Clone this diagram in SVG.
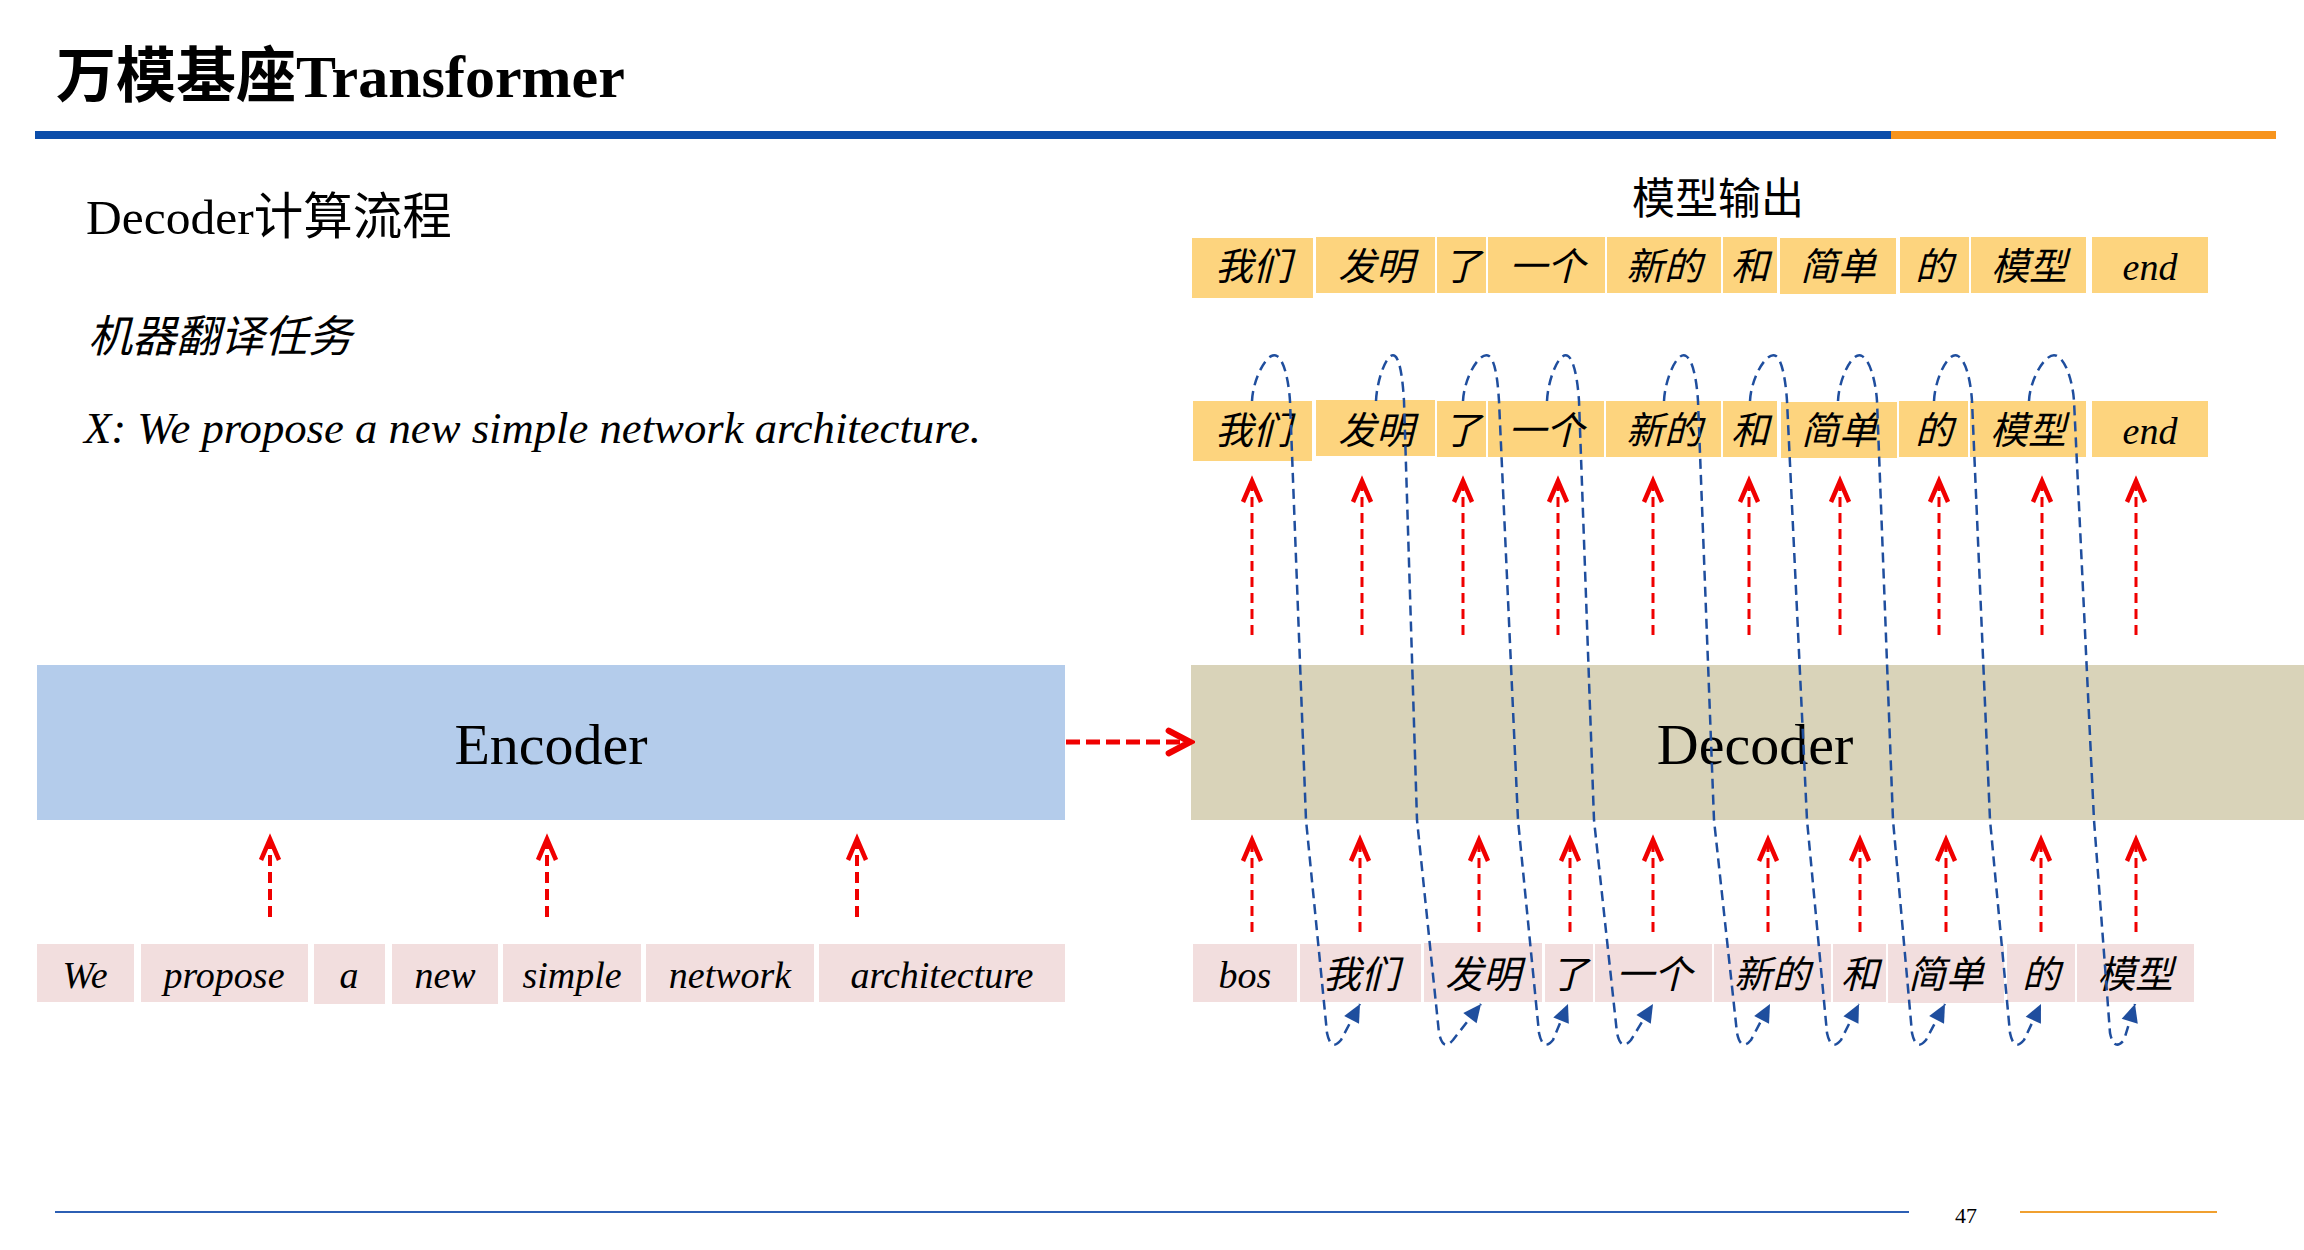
<svg xmlns="http://www.w3.org/2000/svg" width="2304" height="1250" viewBox="0 0 2304 1250">
<style>
.t{font-family:"Liberation Serif","Noto Sans CJK SC",serif;fill:#000}
.tok{font-family:"Liberation Serif","Noto Sans CJK SC",serif;font-style:italic;font-size:38px;text-anchor:middle;fill:#000}
.out{fill:#FDD47E}
.inp{fill:#F2DEDE}
.red{stroke:#F00000;stroke-width:3;fill:none;stroke-dasharray:10 6}
.red4{stroke:#F00000;stroke-width:4;fill:none;stroke-dasharray:11 6}
.blue{stroke:#1F4E9E;stroke-width:2.5;fill:none;stroke-dasharray:10 6}
</style>
<defs>
<marker id="rh" markerUnits="userSpaceOnUse" markerWidth="30" markerHeight="30" viewBox="-16 -10 20 20" refX="0" refY="0" orient="auto">
<path d="M-14,-6 L0,0 L-14,6" fill="none" stroke="#F00000" stroke-width="3" stroke-dasharray="none"/>
</marker>
<marker id="rh2" markerUnits="userSpaceOnUse" markerWidth="30" markerHeight="30" viewBox="-20 -12 24 24" refX="0" refY="0" orient="auto">
<path d="M-17,-9 L0,0 L-17,9" fill="none" stroke="#F00000" stroke-width="5" stroke-linecap="round" stroke-dasharray="none"/>
</marker>
<marker id="bh" markerUnits="userSpaceOnUse" markerWidth="24" markerHeight="24" viewBox="-16 -10 20 20" refX="0" refY="0" orient="auto">
<path d="M-15,-7 L0,0 L-15,7 z" fill="#1F4E9E" stroke="none"/>
</marker>
</defs>
<rect x="0" y="0" width="2304" height="1250" fill="#FFFFFF"/>

<g id="header">
<text class="t" x="56" y="97" font-size="60" font-weight="bold">万模基座Transformer</text>
<rect x="35" y="131" width="1856" height="8" fill="#0B4DAA"/>
<rect x="1891" y="131" width="385" height="8" fill="#F7941D"/>
</g>

<g id="intro">
<text class="t" x="86" y="234" font-size="49.5">Decoder计算流程</text>
<text class="t" x="88" y="352" font-size="44" font-style="italic">机器翻译任务</text>
<text class="t" x="84" y="443" font-size="44.7" font-style="italic">X: We propose a new simple network architecture.</text>
</g>

<g id="encoder">
<rect x="37" y="665" width="1028" height="155" fill="#B4CCEB"/>
<text class="t" x="551" y="764" font-size="58" text-anchor="middle">Encoder</text>
</g>

<g id="decoder">
<rect x="1191" y="665" width="1113" height="155" fill="#D9D3B9"/>
<text class="t" x="1755" y="764" font-size="58" text-anchor="middle">Decoder</text>
</g>

<g id="source-tokens">
<g id="src-we"><rect class="inp" x="37" y="944" width="97" height="58"/><text class="tok" x="85" y="988">We</text></g>
<g id="src-propose"><rect class="inp" x="141" y="944" width="167" height="58"/><text class="tok" x="224" y="988">propose</text></g>
<g id="src-a"><rect class="inp" x="314" y="944" width="71" height="60"/><text class="tok" x="349" y="988">a</text></g>
<g id="src-new"><rect class="inp" x="392" y="944" width="106" height="60"/><text class="tok" x="445" y="988">new</text></g>
<g id="src-simple"><rect class="inp" x="503" y="944" width="138" height="58"/><text class="tok" x="572" y="988">simple</text></g>
<g id="src-network"><rect class="inp" x="646" y="944" width="168" height="58"/><text class="tok" x="730" y="988">network</text></g>
<g id="src-architecture"><rect class="inp" x="819" y="944" width="246" height="58"/><text class="tok" x="942" y="988">architecture</text></g>
</g>

<g id="output-label">
<text class="t" x="1718" y="214" font-size="43" text-anchor="middle">模型输出</text>
</g>

<g id="output-row">
<g id="out-1"><rect class="out" x="1192" y="238" width="121" height="60"/><text class="tok" x="1253" y="280">我们</text></g>
<g id="out-2"><rect class="out" x="1316" y="237" width="119" height="56"/><text class="tok" x="1376" y="280">发明</text></g>
<g id="out-3"><rect class="out" x="1437" y="237" width="49" height="56"/><text class="tok" x="1462" y="280">了</text></g>
<g id="out-4"><rect class="out" x="1488" y="237" width="117" height="56"/><text class="tok" x="1547" y="280">一个</text></g>
<g id="out-5"><rect class="out" x="1607" y="237" width="114" height="56"/><text class="tok" x="1664" y="280">新的</text></g>
<g id="out-6"><rect class="out" x="1723" y="237" width="54" height="56"/><text class="tok" x="1750" y="280">和</text></g>
<g id="out-7"><rect class="out" x="1780" y="238" width="116" height="56"/><text class="tok" x="1838" y="280">简单</text></g>
<g id="out-8"><rect class="out" x="1900" y="237" width="69" height="56"/><text class="tok" x="1934" y="280">的</text></g>
<g id="out-9"><rect class="out" x="1971" y="237" width="115" height="56"/><text class="tok" x="2029" y="280">模型</text></g>
<g id="out-10"><rect class="out" x="2092" y="237" width="116" height="56"/><text class="tok" x="2150" y="280">end</text></g>
</g>

<g id="pred-row">
<g id="pred-1"><rect class="out" x="1193" y="401" width="119" height="60"/><text class="tok" x="1253" y="444">我们</text></g>
<g id="pred-2"><rect class="out" x="1316" y="400" width="119" height="56"/><text class="tok" x="1376" y="444">发明</text></g>
<g id="pred-3"><rect class="out" x="1437" y="401" width="49" height="56"/><text class="tok" x="1462" y="444">了</text></g>
<g id="pred-4"><rect class="out" x="1488" y="401" width="116" height="56"/><text class="tok" x="1546" y="444">一个</text></g>
<g id="pred-5"><rect class="out" x="1606" y="401" width="115" height="56"/><text class="tok" x="1664" y="444">新的</text></g>
<g id="pred-6"><rect class="out" x="1723" y="401" width="54" height="56"/><text class="tok" x="1750" y="444">和</text></g>
<g id="pred-7"><rect class="out" x="1781" y="402" width="116" height="56"/><text class="tok" x="1839" y="444">简单</text></g>
<g id="pred-8"><rect class="out" x="1899" y="401" width="69" height="56"/><text class="tok" x="1934" y="444">的</text></g>
<g id="pred-9"><rect class="out" x="1970" y="401" width="116" height="56"/><text class="tok" x="2028" y="444">模型</text></g>
<g id="pred-10"><rect class="out" x="2092" y="401" width="116" height="56"/><text class="tok" x="2150" y="444">end</text></g>
</g>

<g id="target-input-row">
<g id="in-1"><rect class="inp" x="1193" y="944" width="104" height="58"/><text class="tok" x="1245" y="988">bos</text></g>
<g id="in-2"><rect class="inp" x="1300" y="944" width="121" height="58"/><text class="tok" x="1361" y="988">我们</text></g>
<g id="in-3"><rect class="inp" x="1424" y="943" width="118" height="59"/><text class="tok" x="1483" y="988">发明</text></g>
<g id="in-4"><rect class="inp" x="1545" y="944" width="48" height="58"/><text class="tok" x="1569" y="988">了</text></g>
<g id="in-5"><rect class="inp" x="1595" y="944" width="117" height="58"/><text class="tok" x="1654" y="988">一个</text></g>
<g id="in-6"><rect class="inp" x="1714" y="944" width="117" height="58"/><text class="tok" x="1772" y="988">新的</text></g>
<g id="in-7"><rect class="inp" x="1833" y="944" width="53" height="58"/><text class="tok" x="1860" y="988">和</text></g>
<g id="in-8"><rect class="inp" x="1888" y="944" width="116" height="59"/><text class="tok" x="1946" y="988">简单</text></g>
<g id="in-9"><rect class="inp" x="2007" y="944" width="68" height="58"/><text class="tok" x="2041" y="988">的</text></g>
<g id="in-10"><rect class="inp" x="2077" y="944" width="117" height="58"/><text class="tok" x="2135" y="988">模型</text></g>
</g>

<g id="connectors">
<line class="red4" x1="270" y1="917" x2="270" y2="839" marker-end="url(#rh)"/>
<line class="red4" x1="547" y1="917" x2="547" y2="839" marker-end="url(#rh)"/>
<line class="red4" x1="857" y1="917" x2="857" y2="839" marker-end="url(#rh)"/>
<line stroke="#F00000" stroke-width="5" stroke-dasharray="14 6" x1="1066" y1="742" x2="1190" y2="742" marker-end="url(#rh2)"/>

<line class="red" x1="1252" y1="932" x2="1252" y2="840" marker-end="url(#rh)"/>
<line class="red" x1="1360" y1="932" x2="1360" y2="840" marker-end="url(#rh)"/>
<line class="red" x1="1479" y1="932" x2="1479" y2="840" marker-end="url(#rh)"/>
<line class="red" x1="1570" y1="932" x2="1570" y2="840" marker-end="url(#rh)"/>
<line class="red" x1="1653" y1="932" x2="1653" y2="840" marker-end="url(#rh)"/>
<line class="red" x1="1768" y1="932" x2="1768" y2="840" marker-end="url(#rh)"/>
<line class="red" x1="1860" y1="932" x2="1860" y2="840" marker-end="url(#rh)"/>
<line class="red" x1="1946" y1="932" x2="1946" y2="840" marker-end="url(#rh)"/>
<line class="red" x1="2041" y1="932" x2="2041" y2="840" marker-end="url(#rh)"/>
<line class="red" x1="2136" y1="932" x2="2136" y2="840" marker-end="url(#rh)"/>

<line class="red" x1="1252" y1="635" x2="1252" y2="481" marker-end="url(#rh)"/>
<line class="red" x1="1362" y1="635" x2="1362" y2="481" marker-end="url(#rh)"/>
<line class="red" x1="1463" y1="635" x2="1463" y2="481" marker-end="url(#rh)"/>
<line class="red" x1="1558" y1="635" x2="1558" y2="481" marker-end="url(#rh)"/>
<line class="red" x1="1653" y1="635" x2="1653" y2="481" marker-end="url(#rh)"/>
<line class="red" x1="1749" y1="635" x2="1749" y2="481" marker-end="url(#rh)"/>
<line class="red" x1="1840" y1="635" x2="1840" y2="481" marker-end="url(#rh)"/>
<line class="red" x1="1939" y1="635" x2="1939" y2="481" marker-end="url(#rh)"/>
<line class="red" x1="2042" y1="635" x2="2042" y2="481" marker-end="url(#rh)"/>
<line class="red" x1="2136" y1="635" x2="2136" y2="481" marker-end="url(#rh)"/>

<path class="blue" marker-end="url(#bh)" d="M1252,401 C1253,378 1268,350 1277,356 C1285,361 1289,385 1290,401 L1306,820 L1327,1033 Q1331,1052 1341,1040 L1360,1004"/>
<path class="blue" marker-end="url(#bh)" d="M1376,401 C1377,378 1388,350 1395,356 C1401,361 1403,385 1404,401 L1417,820 L1439,1033 Q1443,1052 1453,1040 L1481,1004"/>
<path class="blue" marker-end="url(#bh)" d="M1463,401 C1464,378 1480,350 1489,356 C1496,361 1498,385 1499,401 L1518,820 L1539,1033 Q1543,1052 1553,1040 L1568,1004"/>
<path class="blue" marker-end="url(#bh)" d="M1547,401 C1548,378 1560,350 1568,356 C1575,361 1578,385 1579,401 L1594,820 L1617,1033 Q1621,1052 1631,1040 L1653,1004"/>
<path class="blue" marker-end="url(#bh)" d="M1664,401 C1665,378 1678,350 1686,356 C1694,361 1697,385 1698,401 L1714,820 L1737,1033 Q1741,1052 1751,1040 L1770,1004"/>
<path class="blue" marker-end="url(#bh)" d="M1750,401 C1751,378 1767,350 1776,356 C1783,361 1786,385 1787,401 L1807,820 L1827,1033 Q1831,1052 1841,1040 L1859,1004"/>
<path class="blue" marker-end="url(#bh)" d="M1838,401 C1839,378 1853,350 1862,356 C1871,361 1876,385 1877,401 L1893,820 L1912,1033 Q1916,1052 1926,1040 L1945,1004"/>
<path class="blue" marker-end="url(#bh)" d="M1934,401 C1935,378 1949,350 1958,356 C1967,361 1971,385 1972,401 L1990,820 L2010,1033 Q2014,1052 2024,1040 L2041,1004"/>
<path class="blue" marker-end="url(#bh)" d="M2029,401 C2030,378 2047,350 2057,356 C2067,361 2073,385 2074,401 L2094,820 L2110,1033 Q2114,1052 2124,1040 L2135,1004"/>
</g>

<g id="footer">
<line x1="55" y1="1212" x2="1909" y2="1212" stroke="#2C5FB4" stroke-width="2"/>
<line x1="2020" y1="1212" x2="2217" y2="1212" stroke="#F0A030" stroke-width="2"/>
<text class="t" x="1966" y="1223" font-size="22" text-anchor="middle">47</text>
</g>
</svg>
